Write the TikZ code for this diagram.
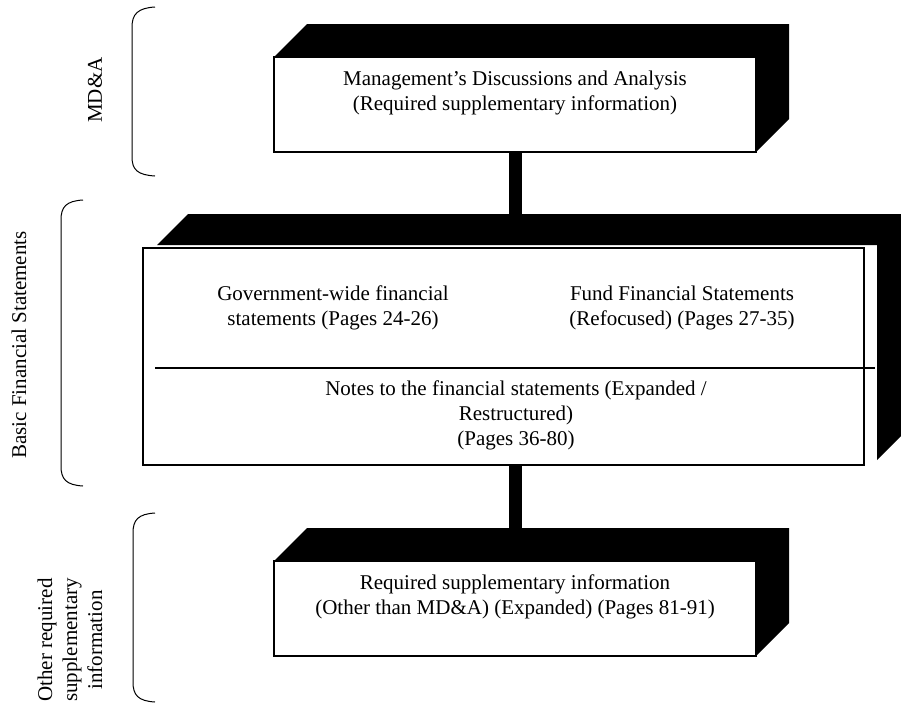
\documentclass[tikz,border=0pt]{standalone}
\usepackage{fontspec}
\setmainfont{Liberation Serif}
\usetikzlibrary{positioning}
\usetikzlibrary{calc}

\tikzset{
  txt/.style={align=center,inner sep=0pt,font=\fontsize{21}{25}\selectfont},
  frontbox/.style={draw,line width=1.2pt,fill=white,inner sep=0pt},
  bar/.style={line width=13pt},
  brace/.style={line width=1pt}
}

\begin{document}
\begin{tikzpicture}[x=1pt,y=-1pt]
\useasboundingbox (0,0) rectangle (901,704);

% solid blocks behind the boxes
\fill (274,57)--(307,24)--(789,24)--(789,119)--(756,152)--(756,57)--cycle;
\fill (157,245)--(188,214)--(908,214)--(908,429)--(877,460)--(877,245)--cycle;
\fill (274,561)--(307,528)--(789,528)--(789,623)--(756,656)--(756,561)--cycle;

% boxes
\node[frontbox,minimum width=482pt,minimum height=95pt](mda) at (515,104.5){};
\node[frontbox,minimum width=721pt,minimum height=217pt](bfs) at (503.5,356.5){};
\node[frontbox,minimum width=482pt,minimum height=95pt](orsi) at (515,608.5){};

\node[txt](mdatext) at (515,93){Management’s Discussions and Analysis\\(Required supplementary information)};
\node[txt](govtext) at (333,308){Government-wide financial\\statements (Pages 24-26)};
\node[txt](fundtext) at (682,308){Fund Financial Statements\\(Refocused) (Pages 27-35)};
\node[txt](notestext) at (516,415){Notes to the financial statements (Expanded /\\Restructured)\\(Pages 36-80)};
\node[txt](orsitext) at (515,597){Required supplementary information\\(Other than MD\&A) (Expanded) (Pages 81-91)};

\coordinate (divL) at (155,368);
\coordinate (divR) at (875,368);
\draw[line width=1.2pt](divL)--(divR);

% connecting bars
\coordinate (bfstop) at (515,214);
\coordinate (orsitop) at (515,528);
\coordinate (bfsbot) at (515,465);
\draw[bar](mda.south)--(bfstop);
\draw[bar](bfsbot)--(orsitop);

% side labels
\node[txt,rotate=90](lblmda) at (95,90){MD\&A};
\node[txt,rotate=90](lblbfs) at (19,345){Basic Financial Statements};
\node[txt,rotate=90](lblorsi) at (70,640){Other required\\supplementary\\information};

\draw[brace](155,7) .. controls (138,8) and (132,14) .. (132,27) -- (132,157) .. controls (132,170) and (138,175) .. (155,176);
\draw[brace](83,200) .. controls (66,201) and (61,207) .. (61,220) -- (61,466) .. controls (61,479) and (66,485) .. (83,486);
\draw[brace](155,513) .. controls (138,514) and (133,520) .. (133,533) -- (133,682) .. controls (133,695) and (138,701) .. (155,702);
\end{tikzpicture}
\end{document}
